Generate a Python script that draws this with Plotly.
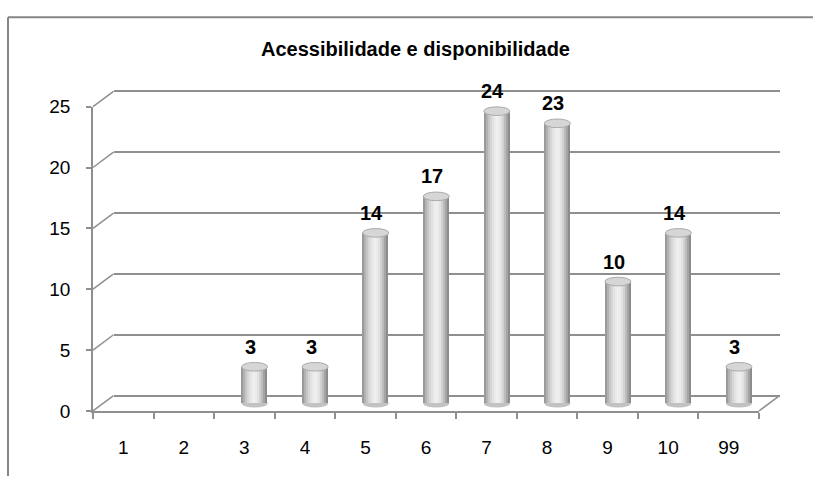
import plotly.graph_objects as go

# ---------------- data ----------------
categories = ["1", "2", "3", "4", "5", "6", "7", "8", "9", "10", "99"]
values = [0, 0, 3, 3, 14, 17, 24, 23, 10, 14, 3]
y_ticks = [0, 5, 10, 15, 20, 25]
title_text = "Acessibilidade e disponibilidade"

# ---------------- geometry (pixels) ----------------
W, H = 813, 487
X0_PX, X1_PX = 93, 759          # front x-axis extent (category -0.5 .. 10.5)
Y0_PX, UNIT_PX = 419, 12.72     # front y=0 pixel and pixels per unit
DX, DY = 20.5, -16              # 3D depth offset of back wall
CAT_PX = (X1_PX - X0_PX) / len(categories)
FONT = "Liberation Sans, Arial, sans-serif"
LINE_C = "#8f8f8f"


def xdom(shift, r0, r1):
    a = X0_PX + shift + (r0 + 0.5) * CAT_PX
    b = X0_PX + shift + (r1 + 0.5) * CAT_PX
    return [a / W, b / W]


def ydom(shift, r0, r1):
    a = Y0_PX + shift - r0 * UNIT_PX
    b = Y0_PX + shift - r1 * UNIT_PX
    return [1 - a / H, 1 - b / H]


def px(x):
    return x / W


def py(y):
    return 1 - y / H


n = len(categories)
XR = [-0.5, n - 0.5]

fig = go.Figure()

# ---------------- cylinders (mid-depth axes x2/y2) ----------------
bar_w = 0.43
stripes = ['#9a9a9a', '#b2b2b2', '#c6c6c6', '#d6d6d6', '#e2e2e2', '#eaeaea', '#efefef',
           '#ececec', '#e2e2e2', '#d2d2d2', '#bcbcbc', '#a4a4a4', '#8c8c8c']
s = bar_w / len(stripes)
for k, c in enumerate(stripes):
    w = s * 1.6 if k < len(stripes) - 1 else s
    fig.add_trace(go.Bar(
        x=categories, y=values, xaxis="x2", yaxis="y2",
        width=w, offset=-bar_w / 2 + k * s,
        marker=dict(color=c, line=dict(width=0)),
        hoverinfo="skip", showlegend=False,
    ))

e = 4.5 / UNIT_PX
shapes = []
for i, v in enumerate(values):
    if v <= 0:
        continue
    shapes.append(dict(type="circle", xref="x2", yref="y2", layer="below",
                       x0=i - bar_w / 2, x1=i + bar_w / 2, y0=-e, y1=e,
                       fillcolor="#c2c2c2", line=dict(width=0)))
    shapes.append(dict(type="circle", xref="x2", yref="y2", layer="above",
                       x0=i - bar_w / 2, x1=i + bar_w / 2, y0=v - e, y1=v + e,
                       fillcolor="#d6d6d6", line=dict(color="#ababab", width=1)))

# ---------------- back wall gridlines (x/y) ----------------
fig.add_trace(go.Scatter(x=[None], y=[None], xaxis="x", yaxis="y",
                         showlegend=False, hoverinfo="skip"))

# ---------------- front axes (x3/y3) ----------------
fig.add_trace(go.Scatter(x=categories, y=[None] * n, xaxis="x3", yaxis="y3",
                         showlegend=False, hoverinfo="skip", mode="markers"))

for t in y_ticks:
    yf = Y0_PX - t * UNIT_PX
    shapes.append(dict(type="line", xref="paper", yref="paper",
                       x0=px(X0_PX), y0=py(yf), x1=px(X0_PX + DX), y1=py(yf + DY),
                       line=dict(color=LINE_C, width=1.5)))
shapes.append(dict(type="line", xref="paper", yref="paper",
                   x0=px(X1_PX), y0=py(Y0_PX), x1=px(X1_PX + DX), y1=py(Y0_PX + DY),
                   line=dict(color=LINE_C, width=1.5)))
# outer chart frame (top and left edges only; the rest is cropped away)
shapes.append(dict(type="line", xref="paper", yref="paper",
                   x0=px(8), y0=py(7.5), x1=1.0, y1=py(7.5),
                   line=dict(color="#868686", width=2)))
shapes.append(dict(type="line", xref="paper", yref="paper",
                   x0=px(8), y0=py(7.5), x1=px(8), y1=0,
                   line=dict(color="#868686", width=2)))

# ---------------- annotations ----------------
annotations = [dict(text="<b>" + title_text + "</b>", xref="paper", yref="paper",
                    x=px(415), y=py(41), xanchor="center", yanchor="middle",
                    showarrow=False, font=dict(family=FONT, size=20, color="#000000"))]
for i, v in enumerate(values):
    if v <= 0:
        continue
    annotations.append(dict(text="<b>%d</b>" % v, xref="x2", yref="y2", x=i, y=v,
                            xanchor="center", yanchor="bottom", yshift=7, xshift=-4,
                            showarrow=False,
                            font=dict(family=FONT, size=20, color="#000000")))

BR = [-0.2, 25.2]
MR = [-1.0, 25.5]
FR = [0, 25]

fig.update_layout(
    width=W, height=H,
    margin=dict(l=0, r=0, t=0, b=0),
    paper_bgcolor="white", plot_bgcolor="rgba(0,0,0,0)",
    barmode="overlay", bargap=0,
    showlegend=False,
    shapes=shapes,
    annotations=annotations,
    font=dict(family=FONT, color="#000000"),
    xaxis=dict(domain=xdom(DX, *XR), range=XR, visible=False, fixedrange=True),
    yaxis=dict(domain=ydom(DY, *BR), range=BR, anchor="x", showgrid=True,
               gridcolor=LINE_C, gridwidth=1.5, tickvals=y_ticks,
               showticklabels=False, zeroline=False, showline=False, ticks=""),
    xaxis2=dict(domain=xdom(DX / 2, *XR), range=XR, visible=False, anchor="y2",
                type="category", categoryorder="array", categoryarray=categories),
    yaxis2=dict(domain=ydom(DY / 2, *MR), range=MR, visible=False, anchor="x2"),
    xaxis3=dict(domain=xdom(0, *XR), range=XR, anchor="y3", type="category",
                categoryorder="array", categoryarray=categories,
                showline=True, linecolor=LINE_C, linewidth=1.5,
                ticks="outside", tickson="boundaries", ticklen=6, tickcolor=LINE_C,
                tickwidth=1.5, showgrid=False, zeroline=False,
                tickfont=dict(family=FONT, size=19, color="#000000"),
                ticklabelstandoff=19),
    yaxis3=dict(domain=ydom(0, *FR), range=FR, anchor="x3", tickvals=y_ticks,
                showline=True, linecolor=LINE_C, linewidth=1.5,
                ticks="outside", ticklen=5, tickcolor=LINE_C, tickwidth=1.5,
                showgrid=False, zeroline=False,
                tickfont=dict(family=FONT, size=19, color="#000000"),
                ticklabelstandoff=12),
)

fig.write_html("out.html")
